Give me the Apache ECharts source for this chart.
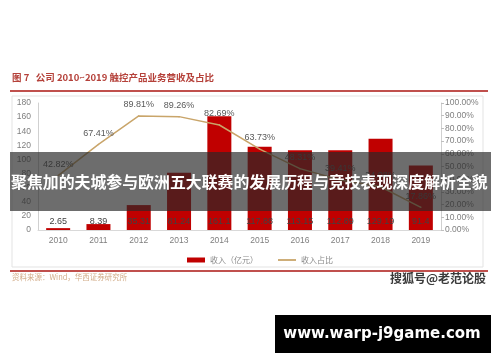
<!DOCTYPE html>
<html><head><meta charset="utf-8">
<script src="https://cdn.jsdelivr.net/npm/echarts@6/dist/echarts.min.js"></script>
<style>html,body{margin:0;padding:0;background:#fff}#c{width:500px;height:362px}</style>
</head><body><div id="c"></div>
<script>
const categories = ['2010','2011','2012','2013','2014','2015','2016','2017','2018','2019'];
const revenue = [2.65, 8.39, 35.31, 81.24, 161.1, 117.88, 113.15, 112.89, 129.19, 91.4];
const share = [42.82, 67.41, 89.81, 89.26, 82.69, 63.73, 48.31, 39.41, 34.08, 17.86];
const leftTicks = [0, 180, 20];
const rightTicks = [0, 100, 10];
const titleText = '图 7   公司 2010~2019 触控产品业务营收及占比';
const sourceText = '资料来源：Wind，华西证券研究所';
const legendNames = ['收入（亿元）', '收入占比'];
const bannerText = '聚焦加的夫城参与欧洲五大联赛的发展历程与竞技表现深度解析全貌';
const markText = '搜狐号@老范论股';
const siteText = 'www.warp-j9game.com';

const chart = echarts.init(document.getElementById('c'));
const axisFont = {color:'#7f7f7f', fontSize:8.5, fontFamily:'Liberation Sans, Arial'};
chart.setOption({
  backgroundColor:'#fff',
  animation:false,
  grid:{left:38, right:59, top:103, bottom:132},
  legend:{
    data:[{name:legendNames[0], icon:'rect'},
          {name:legendNames[1], icon:'path://M0,0 L20,0 L20,2 L0,2 Z', itemStyle:{color:'#c9a56a', opacity:1}}],
    top:251, left:182, itemWidth:18, itemHeight:5, itemGap:20,
    textStyle:{color:'#8a8a8a', fontSize:8, fontFamily:'Noto Sans CJK SC'}
  },
  xAxis:{type:'category', data:categories,
    axisLine:{lineStyle:{color:'#d9d9d9'}}, axisTick:{show:false},
    axisLabel:Object.assign({margin:6}, axisFont)},
  yAxis:[
    {type:'value', min:leftTicks[0], max:leftTicks[1], interval:leftTicks[2],
     axisLine:{show:true, lineStyle:{color:'#d0d0d0'}}, axisTick:{show:false},
     splitLine:{show:false}, axisLabel:Object.assign({margin:7}, axisFont)},
    {type:'value', min:rightTicks[0], max:rightTicks[1], interval:rightTicks[2],
     axisLine:{show:true, lineStyle:{color:'#d0d0d0'}}, axisTick:{show:true, length:3, lineStyle:{color:'#bfbfbf'}},
     splitLine:{show:false},
     axisLabel:Object.assign({margin:4, formatter:v=>v.toFixed(2)+'%'}, axisFont)}
  ],
  series:[
    {name:legendNames[0], type:'bar', data:revenue, barWidth:24, yAxisIndex:0,
     itemStyle:{color:'#c00000'},
     label:{show:true, position:'insideBottom', distance:4, color:'#404040', fontSize:9, fontFamily:'Liberation Sans, Arial'}},
    {name:legendNames[1], type:'line', data:share, yAxisIndex:1, symbol:'circle', symbolSize:1.5, showSymbol:true, showAllSymbol:true, z:3,
     lineStyle:{color:'#c9a56a', width:1.5}, itemStyle:{color:'#c9a56a'},
     labelLayout:{hideOverlap:false},
     label:{show:true, position:'top', distance:6, color:'#595959', fontSize:9, fontFamily:'Liberation Sans, Arial',
       formatter:p=>Number(p.value).toFixed(2)+'%'}}
  ],
  graphic:[
    {type:'text', left:12, top:73, style:{text:titleText, fill:'#b5413a', font:'bold 9.5px "Noto Sans CJK SC"'}},
    {type:'rect', shape:{x:10, y:90, width:478, height:2}, style:{fill:'#c0504d'}},
    {type:'rect', shape:{x:12, y:96, width:471, height:171}, style:{fill:'none', stroke:'#e3e3e3', lineWidth:1}, z:-1},
    {type:'rect', shape:{x:10, y:270, width:478, height:2}, style:{fill:'#c0504d'}},
    {type:'text', left:12, top:273, style:{text:sourceText, fill:'#d2ad8a', font:'7.5px "Noto Sans CJK SC"'}},
    {type:'text', left:390, top:272, style:{text:markText, fill:'#3a3a3a', font:'bold 12px "Noto Sans CJK SC"'}, z:20},
    {type:'rect', shape:{x:10, y:152, width:481, height:59}, style:{fill:'rgba(40,40,40,0.68)'}, z:50},
    {type:'text', left:11, top:174, style:{text:bannerText, fill:'#ffffff', font:'bold 15.9px "Noto Sans CJK SC"'}, z:51},
    {type:'rect', shape:{x:275, y:315, width:216, height:38}, style:{fill:'#000'}, z:50},
    {type:'text', x:382, y:334, style:{text:siteText, fill:'#ffffff', font:'bold 15px "DejaVu Sans"', align:'center', verticalAlign:'middle'}, z:51}
  ]
});
</script></body></html>
